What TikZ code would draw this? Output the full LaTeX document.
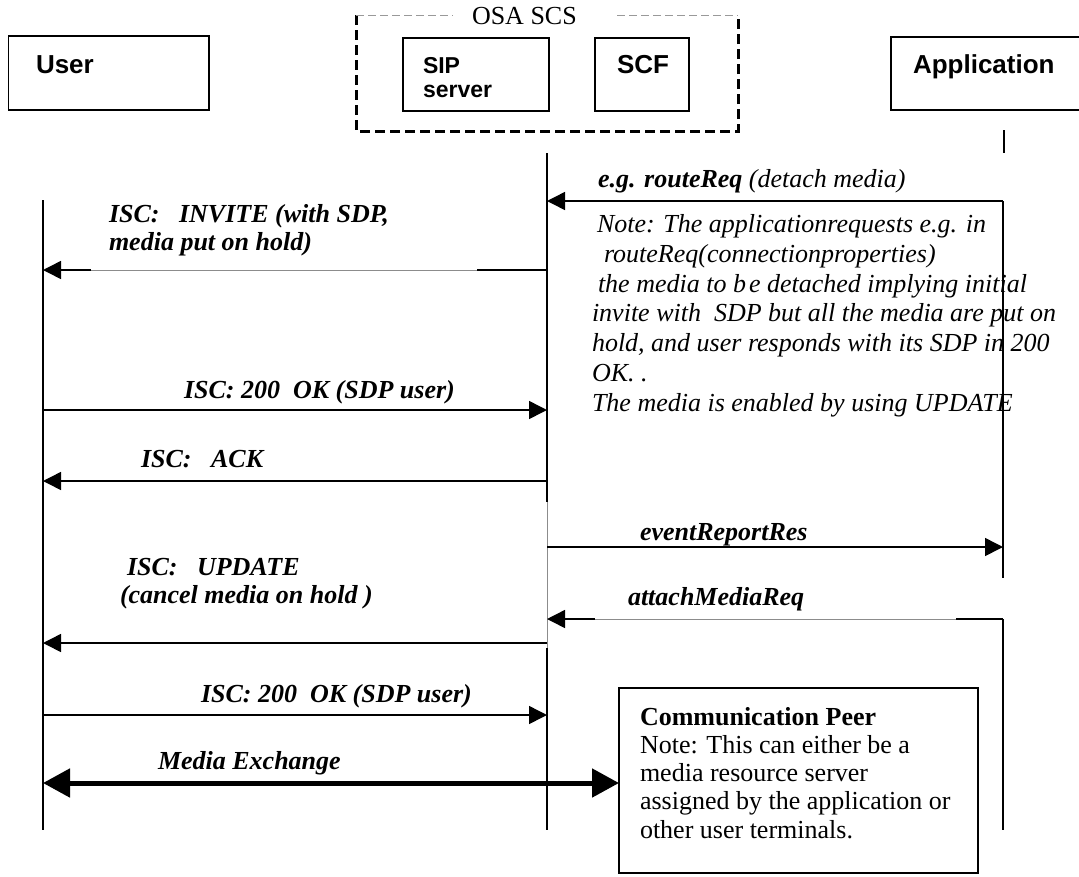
\documentclass[tikz,border=0pt]{standalone}
\usepackage{fontspec}
\setmainfont{Liberation Serif}
\newfontfamily\arialfont{Liberation Sans}
\usetikzlibrary{arrows.meta}
\begin{document}
\begin{tikzpicture}[x=1pt,y=-1pt,
  every node/.style={inner sep=0pt, outer sep=0pt},
  entity/.style={font=\arialfont\bfseries\fontsize{26}{29}\selectfont, anchor=base west},
  lbl/.style={font=\fontsize{26}{28}\selectfont\bfseries\itshape, anchor=base west, align=left},
  note/.style={font=\fontsize{26}{29.7}\selectfont\itshape, anchor=base west, align=left},
  plain/.style={font=\fontsize{26}{28.2}\selectfont, anchor=base west, align=left},
  life/.style={line width=1.6pt},
  msg/.style={line width=1.5pt, -{Triangle[length=18pt,width=18pt]}},
  media/.style={line width=5pt, {Triangle[length=27pt,width=28pt]}-{Triangle[length=27pt,width=28pt]}},
  box/.style={draw, line width=1.5pt},
  faint/.style={line width=0.8pt, black!45},
  osadash/.style={line width=3pt, dash pattern=on 10pt off 5pt},
  osatop/.style={line width=0.8pt, black!40, dash pattern=on 8pt off 4pt},
]
\useasboundingbox (0,0) rectangle (1079,876);

% ---- entity boxes
\draw[box] (8.6,36) rectangle (209,110);
\node[entity] (user) at (36,73) {User};

\draw[osadash] (356,15) -- (356,131) -- (738,131) -- (738,15);
\draw[osatop] (356,15) -- (453,15);
\draw[osatop] (617,15) -- (738,15);
\node[font=\fontsize{26}{29}\selectfont, anchor=base west] (osa) at (472,24) {OSA SCS};

\draw[box] (403,38) rectangle (549,111);
% multi-line nodes: base anchor is the baseline of the last line
\node[font=\arialfont\bfseries\fontsize{23}{24}\selectfont, anchor=base west, align=left] (sip) at (423,97) {SIP\\server};

\draw[box] (595,38) rectangle (689,111);
\node[entity] (scf) at (617,73) {SCF};

\draw[box] (1079,37) -| (891,110) -- (1079,110);
\node[entity] (app) at (913,73) {Application};

% ---- lifeline coordinates
\coordinate (uTop) at (43,200);
\coordinate (uBot) at (43,830);
\coordinate (mTop) at (547,153);
\coordinate (mA) at (547,502);
\coordinate (mB) at (547,648);
\coordinate (mBot) at (547,830);
\coordinate (aS1) at (1004,130);
\coordinate (aS2) at (1004,153);
\coordinate (a1) at (1003,201);
\coordinate (a2) at (1003,578);
\coordinate (a3) at (1003,619);
\coordinate (a4) at (1003,830);

\draw[life] (uTop) -- (uBot);
\draw[life] (mTop) -- (mA);
\draw[faint] (mA) -- (mB);
\draw[life] (mB) -- (mBot);
\draw[life] (aS1) -- (aS2);
\draw[life] (a1) -- (a2);
\draw[life] (a3) -- (a4);

% ---- messages
\coordinate (m1) at (547,201);
\draw[msg] (a1) -- (m1);
\node[lbl] (lroute) at (598,187) {e.g. routeReq {\mdseries (detach media)}};
\node[note] (note) at (592,411) {\hspace*{5pt}Note: The applicationrequests e.g. in\\\hspace*{12pt}routeReq(connectionproperties)\\\hspace*{6pt}the media to b\kern3pt e detached implying initial\\invite with\ \ SDP but all the media are put on\\hold, and user responds with its SDP in 200\\OK. .\\The media is enabled by using UPDATE};

\coordinate (m2) at (547,270);
\coordinate (i1) at (477,270);
\coordinate (i2) at (91,270);
\coordinate (u2) at (43,270);
\draw[faint] (i1) -- (i2);
\draw[line width=1.5pt] (m2) -- (i1);
\draw[msg] (i2) -- (u2);
\node[lbl] (linv) at (109,250) {ISC:\ \ \ INVITE (with SDP,\\media put on hold)};

\coordinate (u3) at (43,410);
\coordinate (m3) at (547,410);
\draw[msg] (u3) -- (m3);
\node[lbl] (lok1) at (184,398) {ISC: 200\ \ OK (SDP user)};

\coordinate (m4) at (547,481);
\coordinate (u4) at (43,481);
\draw[msg] (m4) -- (u4);
\node[lbl] (lack) at (141,467) {ISC:\ \ \ ACK};

\coordinate (m5) at (547,547);
\coordinate (a5) at (1003,547);
\draw[msg] (m5) -- (a5);
\node[lbl] (lev) at (640,540) {eventReportRes};

\coordinate (t1) at (956,619);
\coordinate (t2) at (595,619);
\coordinate (m6) at (547,619);
\draw[line width=1.5pt] (a3) -- (t1);
\draw[faint] (t1) -- (t2);
\draw[msg] (t2) -- (m6);
\node[lbl] (latt) at (628,605) {attachMediaReq};

\coordinate (m7) at (547,643);
\coordinate (u7) at (43,643);
\draw[msg] (m7) -- (u7);
\node[lbl] (lupd) at (120,603) {\hspace*{7pt}ISC:\ \ \ UPDATE\\(cancel media on hold )};

\coordinate (u8) at (43,715);
\coordinate (m8) at (547,715);
\draw[msg] (u8) -- (m8);
\node[lbl] (lok2) at (201,702) {ISC: 200\ \ OK (SDP user)};

% ---- communication peer
\node[box, minimum width=359pt, minimum height=185pt, anchor=north west] (peer) at (619,688) {};
\node[plain] (peertext) at (640,838) {\textbf{Communication Peer}\\Note: This can either be a\\media resource server\\assigned by the application or\\other user terminals.};

\coordinate (u9) at (43,783);
\draw[media] (u9) -- (peer.west |- u9);
\node[lbl] (lmedia) at (158,769) {Media Exchange};
\end{tikzpicture}
\end{document}
